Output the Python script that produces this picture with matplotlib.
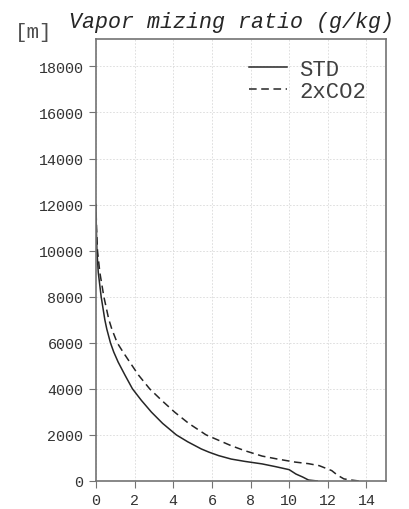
import matplotlib
matplotlib.use("Agg")
import matplotlib.pyplot as plt

# height (m) vs mixing ratio (g/kg)
std_z = [0, 40, 170, 300, 490, 620, 740, 850, 950, 1100, 1250, 1390, 1700, 2000, 2500, 2990,
         3500, 4000, 4600, 5160, 5600, 6000, 6600, 7000, 8000, 9060, 10000, 11000, 12000]
std_q = [11.45, 11.0, 10.7, 10.35, 10.0, 9.3, 8.6, 7.7, 7.0, 6.35, 5.85, 5.45, 4.75, 4.16, 3.45, 2.87,
         2.35, 1.89, 1.5, 1.15, 0.92, 0.75, 0.56, 0.46, 0.27, 0.12, 0.05, 0.02, 0.0]

co2_z = [0, 40, 90, 250, 450, 665, 750, 820, 950, 1080, 1315, 1530, 2000, 2500, 2990,
         3500, 4000, 4600, 5160, 5600, 6000, 6600, 7030, 8000, 9060, 10000, 11000, 12000]
co2_q = [13.6, 13.2, 12.83, 12.5, 12.2, 11.55, 11.0, 10.3, 9.4, 8.6, 7.7, 7.0, 5.7, 4.8, 4.07,
         3.4, 2.78, 2.2, 1.75, 1.4, 1.1, 0.82, 0.66, 0.41, 0.2, 0.08, 0.03, 0.0]

xticks = [0, 2, 4, 6, 8, 10, 12, 14]
yticks = [0, 2000, 4000, 6000, 8000, 10000, 12000, 14000, 16000, 18000]

MONO = "Liberation Mono"
GREY = "0.45"

fig = plt.figure(figsize=(4.1, 5.1), dpi=100)
ax = fig.add_axes([0.234, 0.055, 0.707, 0.867])

ax.plot(std_q, std_z, color="0.15", lw=1.1, label="STD")
ax.plot(co2_q, co2_z, color="0.15", lw=1.1, ls=(0, (5, 3)), label="2xCO2")

ax.set_xlim(0, 15)
ax.set_ylim(0, 19200)
ax.set_xticks(xticks)
ax.set_yticks(yticks)
ax.grid(True, color="0.85", ls=(0, (2, 2)), lw=0.6)
for s in ax.spines.values():
    s.set_color(GREY)
    s.set_linewidth(1.2)
ax.tick_params(direction="out", length=5, pad=4, color=GREY, labelcolor="0.2")
for lab in ax.get_xticklabels() + ax.get_yticklabels():
    lab.set_fontfamily(MONO)
    lab.set_fontsize(10.8)

leg = ax.legend(loc="upper right", frameon=False, handlelength=1.7,
                handletextpad=0.55, prop={"family": MONO, "size": 16},
                borderaxespad=0.5, labelspacing=0.05)
for t in leg.get_texts():
    t.set_color("0.25")

fig.text(0.036, 0.937, "[m]", family=MONO, fontsize=15, color="0.3", va="center")
fig.text(0.168, 0.955, "Vapor mizing ratio (g/kg)", family=MONO, style="italic",
         fontsize=15.6, color="0.15", va="center")

fig.savefig("out.png", dpi=100)
